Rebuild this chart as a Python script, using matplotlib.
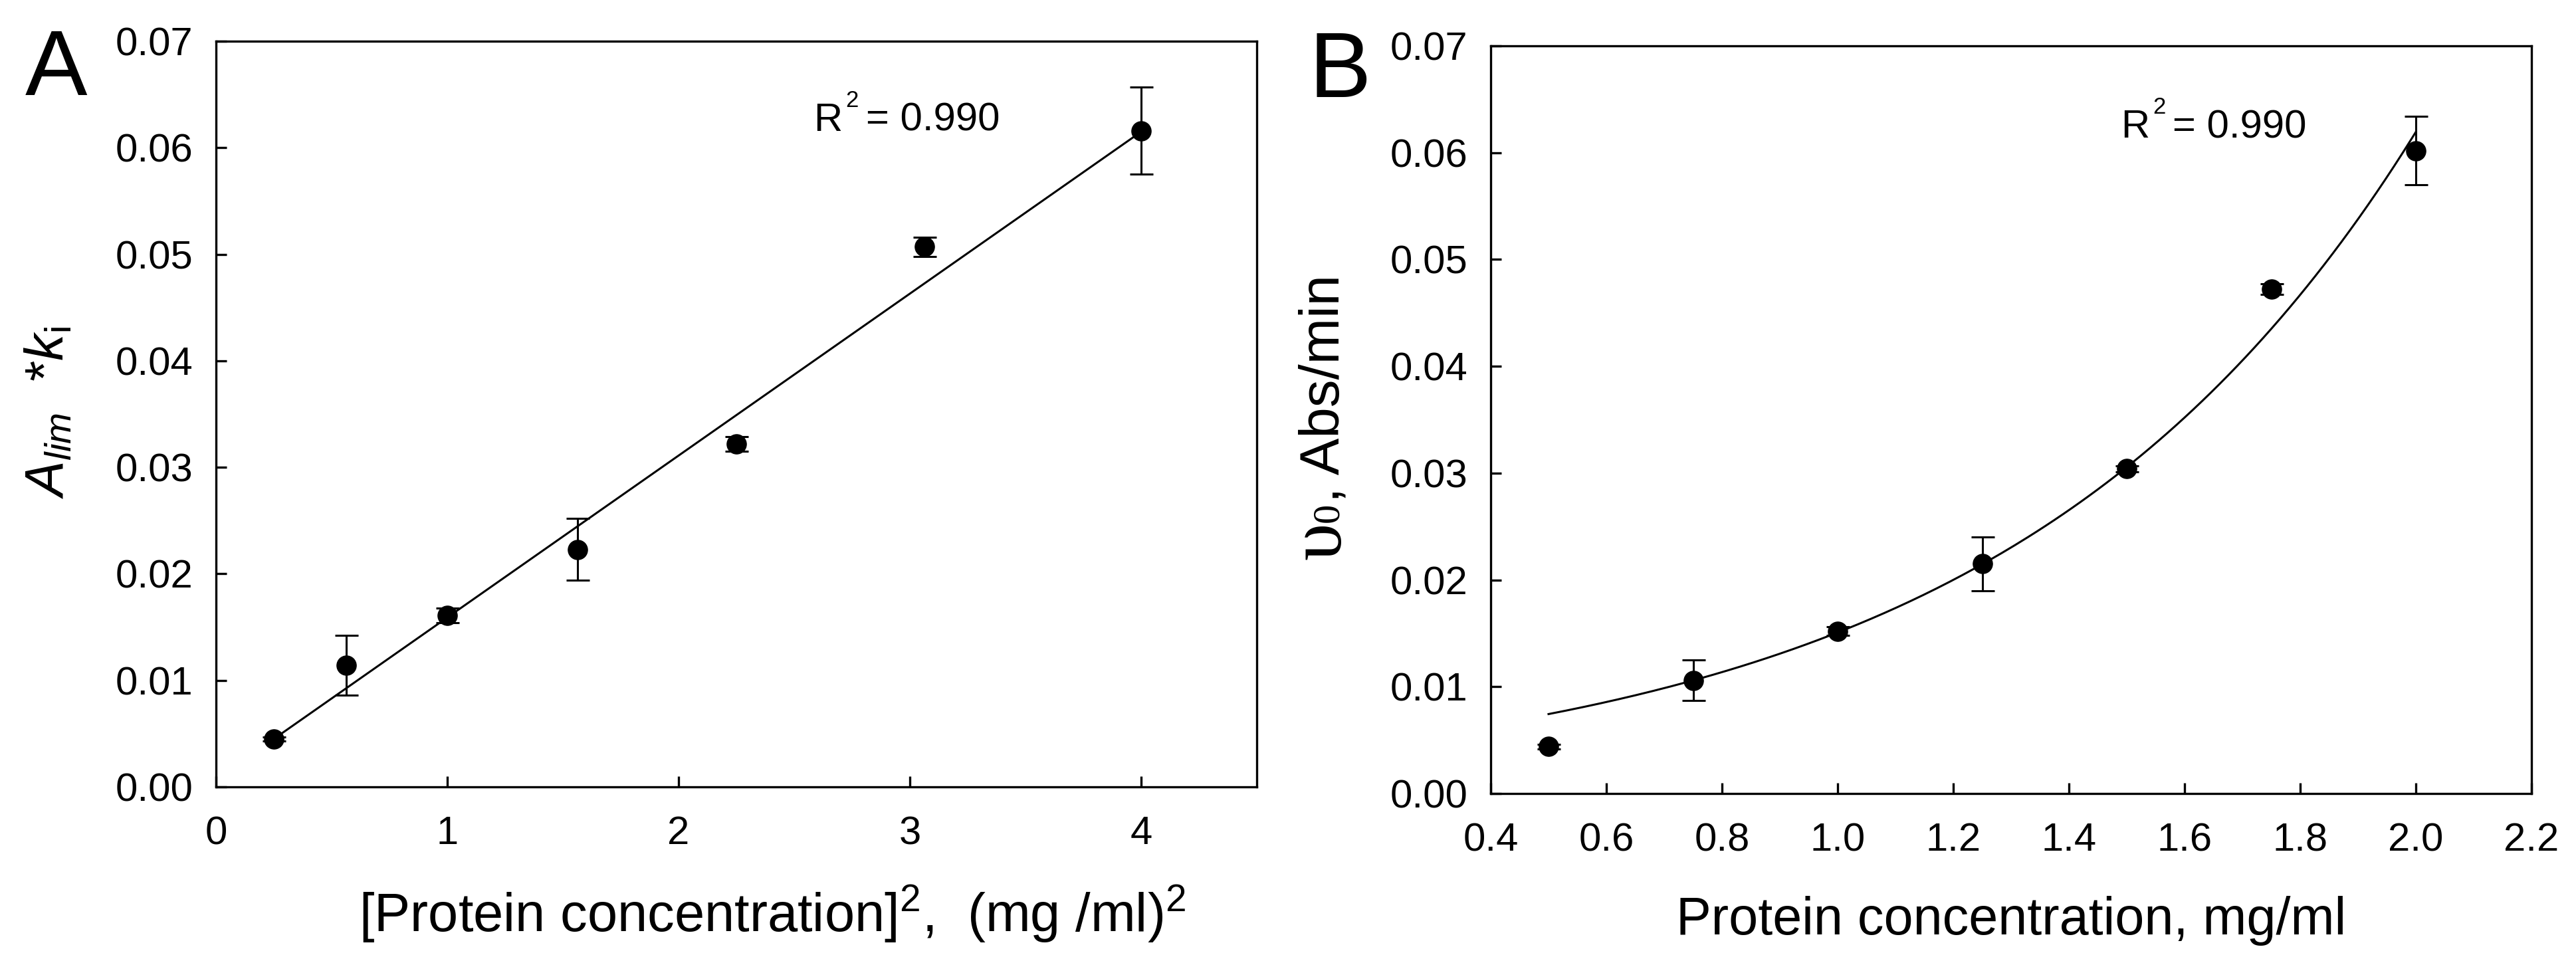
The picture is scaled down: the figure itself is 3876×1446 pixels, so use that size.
import numpy as np
import matplotlib
matplotlib.use('Agg')
import matplotlib.pyplot as plt
from matplotlib.transforms import offset_copy

# Data
conc = [0.5, 0.75, 1.0, 1.25, 1.5, 1.75, 2.0]                 # mg/ml
conc_sq = [0.25, 0.5625, 1.0, 1.5625, 2.25, 3.0625, 4.0]      # (mg/ml)^2
alim_ki = [0.0045, 0.0114, 0.0161, 0.0223, 0.0322, 0.0507, 0.0616]
alim_ki_err = [0.0002, 0.0028, 0.0007, 0.0029, 0.0007, 0.0009, 0.0041]
v0 = [0.0044, 0.0106, 0.0152, 0.0215, 0.0304, 0.0472, 0.0602]
v0_err = [0.0002, 0.0019, 0.0004, 0.0025, 0.0003, 0.0005, 0.0032]

# fitted curves as shown (linear for A, exponential for B)
fit_a_slope, fit_a_icpt = 0.0152, 0.0007
fit_b_amp, fit_b_rate = 0.00367, 1.413
r2_a = '0.990'
r2_b = '0.990'

y_ticks = [0.00, 0.01, 0.02, 0.03, 0.04, 0.05, 0.06, 0.07]
xa_ticks = [0, 1, 2, 3, 4]
xb_ticks = [0.4, 0.6, 0.8, 1.0, 1.2, 1.4, 1.6, 1.8, 2.0, 2.2]

plt.rcParams['font.family'] = ['Liberation Sans', 'DejaVu Sans']
plt.rcParams['mathtext.fontset'] = 'custom'
plt.rcParams['mathtext.rm'] = 'Liberation Sans'
plt.rcParams['mathtext.it'] = 'Liberation Sans:italic'
plt.rcParams['mathtext.bf'] = 'Liberation Sans:bold'

W, H = 3876, 1446
fig = plt.figure(figsize=(W / 100, H / 100), dpi=100)


def px(x, y):
    # pixel position (from top-left) -> figure fraction
    return x / W, 1 - y / H


ax_a = fig.add_axes([325 / W, 1 - 1184 / H, 1566 / W, 1122 / H])
ax_b = fig.add_axes([2243 / W, 1 - 1194 / H, 1566 / W, 1125 / H])

for ax in (ax_a, ax_b):
    for sp in ax.spines.values():
        sp.set_linewidth(2.4)
    ax.tick_params(direction='in', length=11.5, width=2.4, top=False,
                   right=False, labelsize=43)
    ax.tick_params(axis='x', pad=31)
    ax.tick_params(axis='y', pad=25)
    ax.set_ylim(0, 0.07)
    ax.set_yticks(y_ticks)
    ax.set_yticklabels(['%.2f' % t for t in y_ticks])


def r_squared(ax, x, y, value):
    # "R" + raised small "2" + "= value", offsets in pixels
    ax.text(x, y, 'R', fontsize=43, va='baseline')
    ax.text(x, y, '2', fontsize=25, va='baseline',
            transform=offset_copy(ax.transData, fig, x=48, y=36, units='dots'))
    ax.text(x, y, '= ' + value, fontsize=43, va='baseline',
            transform=offset_copy(ax.transData, fig, x=78, y=0, units='dots'))


# ---- panel A
xa_line = np.array([conc_sq[0], conc_sq[-1]])
ax_a.plot(xa_line, fit_a_icpt + fit_a_slope * xa_line, color='black', lw=2.2)
ax_a.errorbar(conc_sq, alim_ki, yerr=alim_ki_err, fmt='o', color='black',
              ms=21, elinewidth=2.2, capsize=12.6, capthick=2.2)
ax_a.set_xlim(0, 4.5)
ax_a.set_xticks(xa_ticks)
ax_a.set_xticklabels([str(t) for t in xa_ticks])
r_squared(ax_a, 2.585, 0.0616, r2_a)

# ---- panel B
xb_line = np.linspace(conc[0], conc[-1], 200)
ax_b.plot(xb_line, fit_b_amp * np.exp(fit_b_rate * xb_line), color='black', lw=2.2)
ax_b.errorbar(conc, v0, yerr=v0_err, fmt='o', color='black',
              ms=21, elinewidth=2.2, capsize=12.6, capthick=2.2)
ax_b.set_xlim(0.4, 2.2)
ax_b.set_xticks(xb_ticks)
ax_b.set_xticklabels(['%.1f' % t for t in xb_ticks])
r_squared(ax_b, 1.49, 0.0614, r2_b)

# panel letters
fig.text(*px(38, 143), 'A', fontsize=101, va='baseline', ha='left')
fig.text(*px(1970, 146), 'B', fontsize=101, va='baseline', ha='left')

# axis labels
fig.text(*px(540, 1402), '[Protein concentration]$^2$,  (mg /ml)$^2$',
         fontsize=58.5, va='baseline', ha='left')
fig.text(*px(3026, 1406), 'Protein concentration, mg/ml',
         fontsize=57, va='baseline', ha='center')
fig.text(*px(95, 621), r'$A_{lim}$  *$k_{\mathrm{i}}$', fontsize=58,
         rotation=90, rotation_mode='anchor', ha='center', va='baseline')

# B y label built from pieces (serif upsilon, small serif 0, sans rest)
renderer = fig.canvas.get_renderer()
pieces = [('υ', 'Liberation Serif', 82, 2016),
          ('0', 'Liberation Serif', 42, 2013),
          (', Abs/min', 'Liberation Sans', 60, 2015)]
y_cur = 842
for s, fam, size, xb in pieces:
    t = fig.text(*px(xb, y_cur), s, fontsize=size, family=fam, rotation=90,
                 rotation_mode='anchor', ha='left', va='baseline')
    bb = t.get_window_extent(renderer)
    y_cur = H - bb.y1

fig.savefig('out.png', dpi=100)
